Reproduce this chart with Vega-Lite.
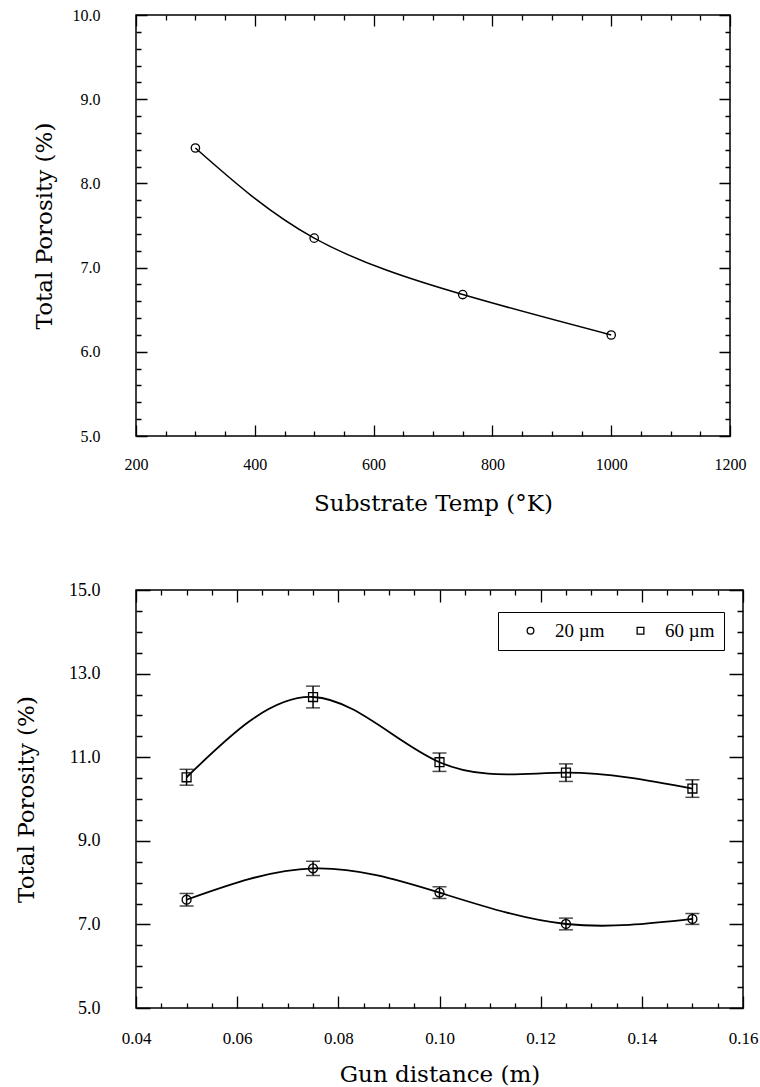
{
  "$schema": "https://vega.github.io/schema/vega-lite/v6.json",
  "background": "white",
  "padding": {"left": 14, "top": 6, "right": 0, "bottom": 0},
  "spacing": 64,
  "config": {
    "view": {"stroke": "black", "strokeWidth": 1.5},
    "axis": {
      "domain": false,
      "ticks": false,
      "gridColor": "black",
      "gridOpacity": 1,
      "gridWidth": 1.3,
      "labelColor": "black",
      "titleColor": "black",
      "labelFont": "Liberation Serif",
      "titleFont": "DejaVu Serif",
      "titleFontWeight": "normal",
      "titleFontSize": 23
    },
    "legend": {
      "labelFont": "Liberation Serif",
      "labelFontSize": 19,
      "labelColor": "black"
    }
  },
  "vconcat": [
    {
      "width": 594,
      "height": 421,
      "data": {"values": [
        {"T": 300, "P": 8.42},
        {"T": 500, "P": 7.35},
        {"T": 750, "P": 6.68},
        {"T": 1000, "P": 6.2}
      ]},
      "resolve": {"axis": {"x": "independent", "y": "independent"}},
      "layer": [
        {
          "mark": {"type": "line", "interpolate": "natural", "color": "black", "strokeWidth": 1.5},
          "encoding": {
            "x": {"field": "T", "type": "quantitative",
              "scale": {"domain": [200, 1200], "nice": false, "zero": false},
              "axis": {"orient": "bottom", "title": "Substrate Temp (°K)",
                "values": [200, 400, 600, 800, 1000, 1200], "format": "d",
                "grid": true, "gridDash": [11, 399, 11],
                "labelPadding": 20, "labelFontSize": 16, "titlePadding": 20, "labelFlush": false}},
            "y": {"field": "P", "type": "quantitative",
              "scale": {"domain": [5, 10], "nice": false, "zero": false},
              "axis": {"orient": "left", "title": "Total Porosity (%)",
                "values": [5, 6, 7, 8, 9, 10], "format": ".1f",
                "grid": true, "gridDash": [11, 572, 11],
                "labelPadding": 36, "labelFontSize": 16, "titlePadding": 16, "labelFlush": false}}
          }
        },
        {
          "mark": {"type": "point", "shape": "circle", "filled": false, "color": "black", "size": 70, "strokeWidth": 1.3, "opacity": 1},
          "encoding": {
            "x": {"field": "T", "type": "quantitative",
              "axis": {"orient": "top", "title": null, "labels": false,
                "values": [250, 300, 350, 450, 500, 550, 650, 700, 750, 850, 900, 950, 1050, 1100, 1150],
                "grid": true, "gridDash": [5, 411, 5]}},
            "y": {"field": "P", "type": "quantitative",
              "axis": {"orient": "right", "title": null, "labels": false,
                "values": [5.2, 5.4, 5.6, 5.8, 6.2, 6.4, 6.6, 6.8, 7.2, 7.4, 7.6, 7.8, 8.2, 8.4, 8.6, 8.8, 9.2, 9.4, 9.6, 9.8],
                "grid": true, "gridDash": [5, 584, 5]}}
          }
        }
      ]
    },
    {
      "width": 607,
      "height": 418,
      "data": {"values": [
        {"d": 0.05, "s": "20 µm", "p": 7.59, "e": 0.15},
        {"d": 0.075, "s": "20 µm", "p": 8.34, "e": 0.17},
        {"d": 0.1, "s": "20 µm", "p": 7.76, "e": 0.14},
        {"d": 0.125, "s": "20 µm", "p": 7.01, "e": 0.14},
        {"d": 0.15, "s": "20 µm", "p": 7.13, "e": 0.13},
        {"d": 0.05, "s": "60 µm", "p": 10.52, "e": 0.19},
        {"d": 0.075, "s": "60 µm", "p": 12.44, "e": 0.26},
        {"d": 0.1, "s": "60 µm", "p": 10.88, "e": 0.22},
        {"d": 0.125, "s": "60 µm", "p": 10.63, "e": 0.21},
        {"d": 0.15, "s": "60 µm", "p": 10.25, "e": 0.21}
      ]},
      "resolve": {"axis": {"x": "independent", "y": "independent"}},
      "layer": [
        {
          "mark": {"type": "line", "interpolate": "natural", "color": "black", "strokeWidth": 1.8},
          "encoding": {
            "detail": {"field": "s"},
            "x": {"field": "d", "type": "quantitative",
              "scale": {"domain": [0.04, 0.16], "nice": false, "zero": false},
              "axis": {"orient": "bottom", "title": "Gun distance (m)",
                "values": [0.04, 0.06, 0.08, 0.1, 0.12, 0.14, 0.16], "format": ".2f",
                "grid": true, "gridDash": [12, 394, 12],
                "labelPadding": 22, "labelFontSize": 17, "titlePadding": 17, "labelFlush": false}},
            "y": {"field": "p", "type": "quantitative",
              "scale": {"domain": [5, 15], "nice": false, "zero": false},
              "axis": {"orient": "left", "title": "Total Porosity (%)",
                "values": [5, 7, 9, 11, 13, 15], "format": ".1f",
                "grid": true, "gridDash": [14, 579, 14],
                "labelPadding": 36, "labelFontSize": 18, "titlePadding": 30, "labelFlush": false}}
          }
        },
        {
          "mark": {"type": "errorbar", "ticks": {"size": 14, "color": "black", "thickness": 1.5}, "rule": {"color": "black", "strokeWidth": 1.5}},
          "encoding": {
            "x": {"field": "d", "type": "quantitative", "axis": null},
            "y": {"field": "p", "type": "quantitative", "axis": null},
            "yError": {"field": "e"}
          }
        },
        {
          "mark": {"type": "point", "filled": false, "color": "black", "size": 80, "strokeWidth": 1.3, "opacity": 1},
          "encoding": {
            "shape": {"field": "s", "type": "nominal",
              "scale": {"domain": ["20 µm", "60 µm"], "range": ["circle", "square"]},
              "legend": {"title": null, "orient": "none", "legendX": 362, "legendY": 597, "direction": "horizontal",
                "strokeColor": "black", "fillColor": "white", "padding": 9, "symbolSize": 45,
                "symbolStrokeColor": "black", "symbolStrokeWidth": 1.3, "symbolFillColor": "white",
                "symbolOffset": 14, "columnPadding": 12, "labelOffset": 15}},
            "x": {"field": "d", "type": "quantitative",
              "axis": {"orient": "top", "title": null, "labels": false,
                "values": [0.045, 0.05, 0.055, 0.065, 0.07, 0.075, 0.085, 0.09, 0.095, 0.105, 0.11, 0.115, 0.125, 0.13, 0.135, 0.145, 0.15, 0.155],
                "grid": true, "gridDash": [5, 408, 5]}},
            "y": {"field": "p", "type": "quantitative",
              "axis": {"orient": "right", "title": null, "labels": false,
                "values": [5.5, 6, 6.5, 7.5, 8, 8.5, 9.5, 10, 10.5, 11.5, 12, 12.5, 13.5, 14, 14.5],
                "grid": true, "gridDash": [6, 595, 6]}}
          }
        }
      ]
    }
  ]
}
